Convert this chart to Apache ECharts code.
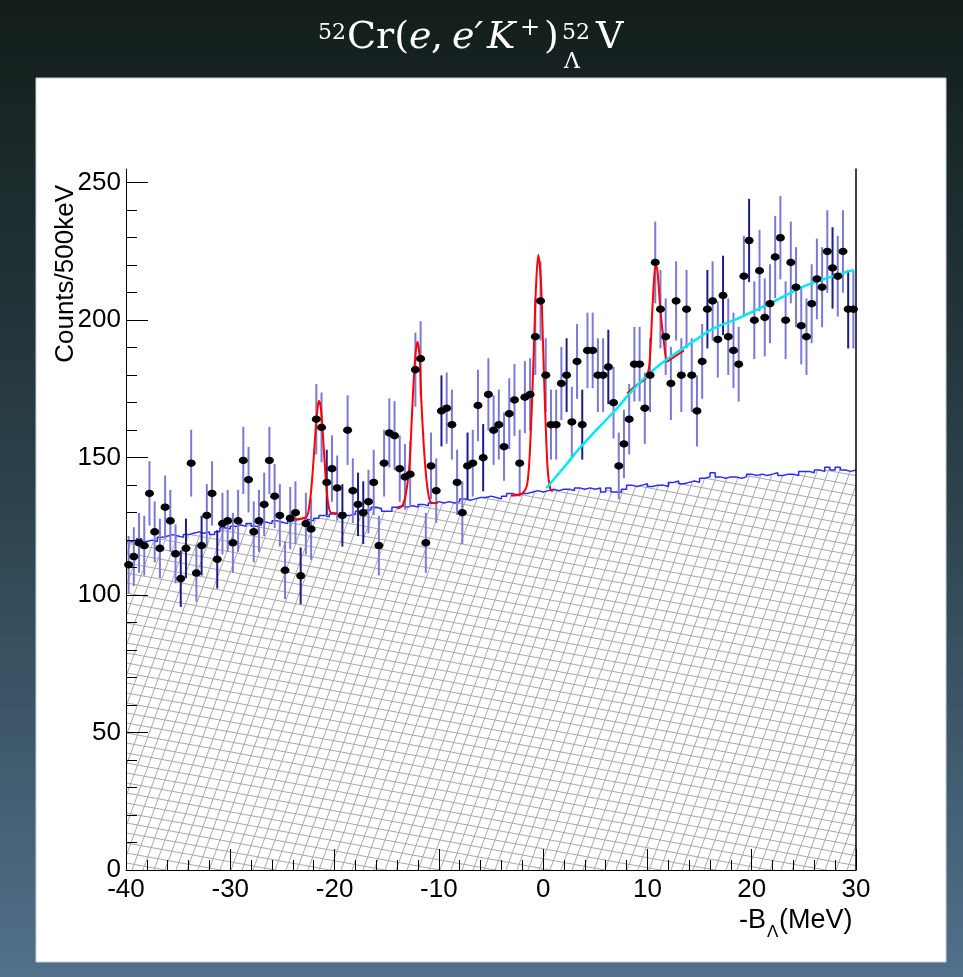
<!DOCTYPE html>
<html>
<head>
<meta charset="utf-8">
<script src="https://cdn.jsdelivr.net/npm/echarts/dist/echarts.min.js"></script>
<style>
html, body { margin: 0; padding: 0; }
body {
    width: 963px; height: 977px; overflow: hidden;
    background: linear-gradient(to bottom, #131d1c 0%, #162321 8%, #2c414b 50%, #51708a 100%);
}
#cn { width: 963px; height: 977px; }
</style>
</head>
<body>
<div id="cn"></div>
<script>
'use strict';

// -B_Lambda axis, 500 keV bins
const xMin = -40;
const xMax = 30;
const binWidth = 0.5;

// counts per bin (data points)
const counts = [
    111, 114, 119, 118, 137, 123, 117, 132, 127, 115,
    106, 117, 148, 108, 118, 129, 137, 113, 126, 127,
    119, 127, 149, 142, 123, 127, 133, 149, 136, 129,
    109, 128, 130, 107, 126, 124, 164, 161, 141, 146,
    139, 129, 160, 138, 133, 130, 134, 141, 118, 148,
    159, 158, 146, 143, 144, 182, 186, 119, 147, 138,
    167, 168, 162, 141, 130, 147, 148, 169, 150, 173,
    160, 162, 154, 166, 171, 148, 172, 173, 194, 207,
    180, 162, 162, 177, 180, 163, 185, 162, 189, 189,
    180, 180, 183, 170, 147, 155, 164, 184, 184, 168,
    180, 221, 204, 194, 177, 207, 180, 204, 180, 167,
    185, 204, 207, 193, 209, 194, 189, 184, 216, 229,
    200, 218, 201, 206, 223, 230, 200, 221, 212, 198,
    194, 206, 215, 212, 225, 219, 216, 225, 204, 204
];

// bins whose error bar is drawn darker
const darkErrBins = [10, 11, 14, 17, 33, 38, 41, 44, 45, 60, 65, 68, 84, 87, 92, 111, 114, 119, 135, 138];

// accidental background (hatched histogram)
const accidental = [
    119.5, 119, 120.5, 119.5, 120, 119.5, 121,
    121.5, 122, 121.5, 121, 122,
    122.5, 123, 122.5, 123, 122, 123,
    124.5, 124,
    125, 125.5, 125, 126, 125, 125.5,
    126.5, 126, 127, 126.5, 126, 127,
    127.5, 128, 127.5, 127, 128,
    129, 128.5, 129.5, 129, 130, 129, 129.5,
    130.5, 130, 131,
    132, 131.5, 130.5, 130.5, 132, 132.5, 132,
    132.5, 132, 133, 132.5,
    133.5, 134, 133.5, 134, 133.5, 134,
    135, 134.5, 135, 135.5,
    135.5, 136, 135.5, 135, 136,
    137, 136.5, 137, 137,
    137.5, 138, 137.5, 138,
    138.5, 138, 138.5, 138.5, 138, 139, 138.5,
    139, 138.5, 139, 137.5, 139,
    137.5, 137.5, 138.5,
    140, 139.5, 140, 140.5, 139.5, 140, 140, 139.5,
    141, 141.5, 140.5, 141, 141.5, 141,
    142.5, 143, 144.5, 143, 142.5, 143, 143, 142.5, 143,
    144, 143.5, 144, 143.5, 144, 144.5, 143.5, 144, 144, 143.5,
    145, 145, 144.5, 145.5, 145, 146.5, 145.5,
    146.5, 145.5, 145, 145.5
];

// red peak fits
const peakFit1 = [[-23.8, 127.5], [-22.7, 128.5], [-22.4, 133], [-22.2, 140], [-22.0, 150], [-21.8, 161],
    [-21.6, 169], [-21.5, 170.6], [-21.35, 169], [-21.2, 163], [-21.0, 151], [-20.8, 140], [-20.6, 133],
    [-20.35, 130], [-19.7, 129.8]];
const peakFit2 = [[-14.0, 131.5], [-13.5, 132.5], [-13.13, 137.5], [-12.8, 148.4], [-12.58, 165.4],
    [-12.32, 183.7], [-12.07, 192.2], [-11.84, 186.7], [-11.69, 171.5], [-11.36, 149.6], [-11.04, 137.5],
    [-10.72, 133.6], [-10.1, 133.5]];
const peakFit3 = [[-3.1, 136.2], [-2.0, 137], [-1.5, 141], [-1.17, 160.6], [-0.91, 187.3], [-0.69, 211.7],
    [-0.47, 223.8], [-0.21, 214.1], [-0.02, 192.2], [0.2, 166.6], [0.43, 146], [0.68, 138.7], [0.91, 137.7]];
const peakFit4 = [[8.06, 173.4], [9.0, 176.5], [9.83, 178.8], [10.14, 182.5], [10.3, 190], [10.46, 203],
    [10.62, 214], [10.78, 220], [10.92, 219], [11.05, 214], [11.26, 203], [11.58, 192], [11.9, 185],
    [12.3, 186], [12.7, 187], [13.5, 189]];

// cyan curve
const contFit = [[0.3, 138.9], [2, 146.5], [3.6, 153.9], [5.3, 160.8], [7, 167.6], [8.5, 174.2], [10, 180],
    [11.6, 185], [13.2, 189.2], [14.8, 193.3], [16.4, 197.1], [18.6, 200.5], [20.2, 203.3], [21.8, 206.2],
    [23.4, 209.3], [25, 212.3], [26.6, 214.5], [28.2, 216.5], [29.8, 218.3]];

const yMajorTicks = [0, 50, 100, 150, 200, 250];
const yMinorTicks = [10, 20, 30, 40, 60, 70, 80, 90, 110, 120, 130, 140, 160, 170, 180, 190, 210, 220, 230, 240];

const fontAxis = "'Liberation Sans', Arial, sans-serif";
const fontTitle = "'DejaVu Serif', 'Liberation Serif', serif";

//hatch pattern
const hatch = document.createElement('canvas');
hatch.width = 55;
hatch.height = 30;
{
    const ctx = hatch.getContext('2d');
    ctx.strokeStyle = '#a9a9a9';
    ctx.lineWidth = 1;
    ctx.beginPath();
    for (let x0 = -11; x0 <= 55; x0 += 11) {
        ctx.moveTo(x0, 30);
        ctx.lineTo(x0 + 11, 0);
    }
    for (let y0 = -10; y0 <= 30; y0 += 10) {
        ctx.moveTo(0, y0);
        ctx.lineTo(55, y0 + 10);
    }
    ctx.stroke();
}

const arrPoints = counts.map((c, i) => [xMin + binWidth * (i + 0.5), c]);
const arrErr = counts.map((c, i) => [xMin + binWidth * (i + 0.5), c - Math.sqrt(c), c + Math.sqrt(c),
    darkErrBins.includes(i) ? 1 : 0]);
const arrAcc = accidental.map((v, i) => [xMin + binWidth * i, v]);
arrAcc.push([xMax, accidental[accidental.length - 1]]);

const fitLine = (name, data, color) => ({
    name: name,
    type: 'line',
    data: data,
    smooth: 0.3,
    symbol: 'none',
    lineStyle: { color: color, width: 2 },
    z: 4
});

const txt = (text, x, y, size, extra) => ({
    type: 'text',
    x: x,
    y: y,
    style: Object.assign({
        text: text,
        fontSize: size,
        fontFamily: fontTitle,
        fill: '#ffffff',
        verticalAlign: 'middle'
    }, extra || {})
});

const chart = echarts.init(document.getElementById('cn'));

const option = {
    animation: false,
    graphic: [
        {
            type: 'rect', z: -10,
            shape: { x: 36, y: 78, width: 910, height: 884 },
            style: { fill: '#ffffff', stroke: '#c9d1d8', lineWidth: 1 }
        },
        txt('52', 318, 33, 22),
        txt('Cr(', 347, 38, 38),
        txt('e', 409, 38, 38, { fontStyle: 'italic' }),
        txt(',', 431, 38, 38),
        txt('e\u2032', 452, 38, 38, { fontStyle: 'italic' }),
        txt('K', 487, 38, 38, { fontStyle: 'italic' }),
        txt('+', 520, 29, 24),
        txt(')', 544, 38, 38),
        txt('52', 562, 33, 22),
        txt('\u039b', 564, 62, 22),
        txt('V', 596, 38, 38),
        {
            type: 'text', x: 66, y: 185, rotation: Math.PI / 2,
            style: { text: 'Counts/500keV', fontSize: 26, fontFamily: fontAxis, fill: '#000', align: 'right', verticalAlign: 'middle' }
        },
        {
            type: 'text', x: 766, y: 921,
            style: { text: '-B', fontSize: 27, fontFamily: fontAxis, fill: '#000', align: 'right', verticalAlign: 'middle' }
        },
        {
            type: 'text', x: 767, y: 932,
            style: { text: '\u039b', fontSize: 17, fontFamily: fontAxis, fill: '#000', align: 'left', verticalAlign: 'middle' }
        },
        {
            type: 'text', x: 779, y: 921,
            style: { text: '(MeV)', fontSize: 27, fontFamily: fontAxis, fill: '#000', align: 'left', verticalAlign: 'middle' }
        }
    ],
    grid: {
        left: 126,
        top: 169,
        width: 730,
        height: 701
    },
    xAxis: {
        type: 'value',
        min: xMin,
        max: xMax,
        interval: 10,
        z: 10,
        axisLine: { show: true, onZero: false, lineStyle: { color: '#000', width: 1 } },
        axisTick: { show: true, inside: true, length: 21, lineStyle: { color: '#000', width: 1 } },
        minorTick: { show: true, splitNumber: 5, length: 10, lineStyle: { color: '#000', width: 1 } },
        axisLabel: { margin: 7, fontSize: 26, fontFamily: fontAxis, color: '#000' },
        splitLine: { show: false }
    },
    yAxis: [{
            type: 'value',
            min: 0,
            max: 255,
            interval: 50,
            position: 'left',
            z: 10,
            axisLine: { show: true, onZero: false, lineStyle: { color: '#000', width: 1 } },
            axisTick: { show: true, inside: true, length: 22, customValues: yMajorTicks, lineStyle: { color: '#000' } },
            axisLabel: { margin: 5, fontSize: 26, fontFamily: fontAxis, color: '#000', customValues: yMajorTicks },
            splitLine: { show: false }
        },
        {
            type: 'value',
            min: 0,
            max: 255,
            position: 'left',
            z: 10,
            axisLine: { show: false, onZero: false },
            axisTick: { show: true, inside: true, length: 11, customValues: yMinorTicks, lineStyle: { color: '#000' } },
            axisLabel: { show: false },
            splitLine: { show: false }
        },
        {
            type: 'value',
            min: 0,
            max: 255,
            position: 'right',
            z: 10,
            axisLine: { show: true, onZero: false, lineStyle: { color: '#000', width: 1.5 } },
            axisTick: { show: false },
            axisLabel: { show: false },
            splitLine: { show: false }
        }
    ],
    series: [{
            name: 'accidental',
            type: 'line',
            step: 'end',
            data: arrAcc,
            symbol: 'none',
            lineStyle: { color: '#2b2bff', width: 1.5 },
            areaStyle: { color: { image: hatch, repeat: 'repeat' }, opacity: 1 },
            z: 1
        },
        {
            name: 'errors',
            type: 'custom',
            data: arrErr,
            encode: { x: 0, y: [1, 2] },
            renderItem: (params, api) => {
                const x = api.value(0);
                const p1 = api.coord([x, api.value(1)]);
                const p2 = api.coord([x, api.value(2)]);
                return {
                    type: 'line',
                    shape: { x1: p1[0], y1: p1[1], x2: p2[0], y2: p2[1] },
                    style: { stroke: api.value(3) ? '#1c1c8e' : '#7a7ad6', lineWidth: 2 }
                };
            },
            z: 3
        },
        fitLine('peak1', peakFit1, '#ff0000'),
        fitLine('peak2', peakFit2, '#ff0000'),
        fitLine('peak3', peakFit3, '#ff0000'),
        fitLine('peak4', peakFit4, '#ff0000'),
        Object.assign(fitLine('continuum', contFit, '#00e8f0'), { smooth: true, lineStyle: { color: '#00e8f0', width: 2.5 } }),
        {
            name: 'data',
            type: 'scatter',
            data: arrPoints,
            symbol: 'circle',
            symbolSize: [9, 7.5],
            itemStyle: { color: '#000', opacity: 1 },
            z: 5
        }
    ]
};

chart.setOption(option);
</script>
</body>
</html>
